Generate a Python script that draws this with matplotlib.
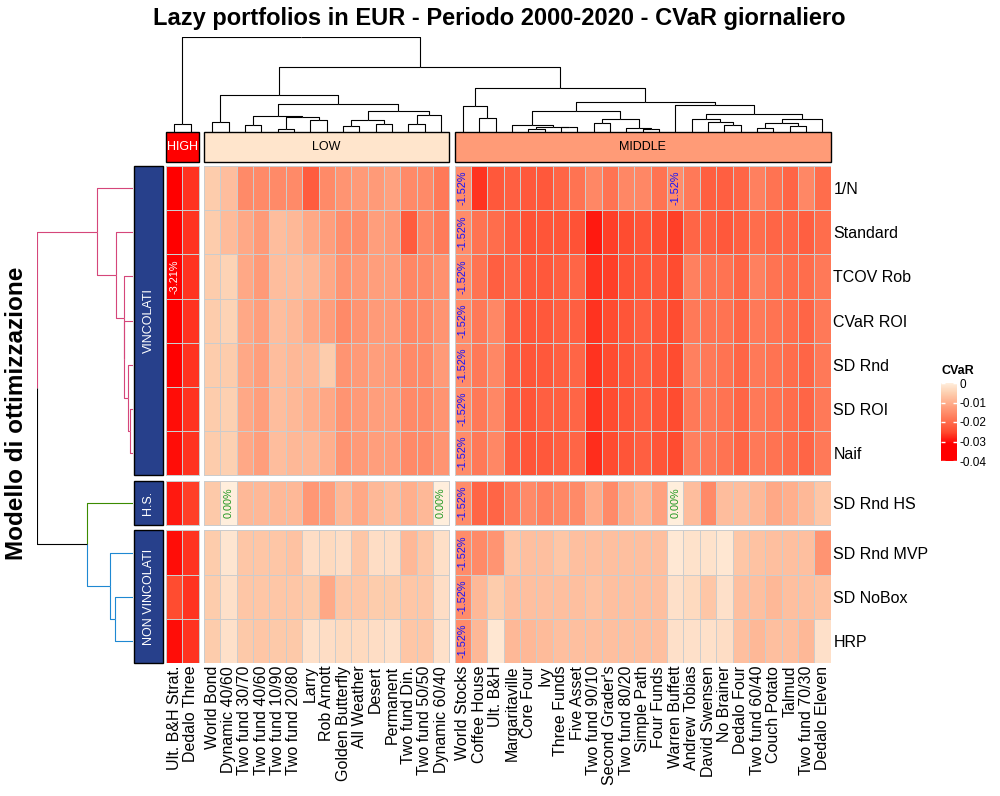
import numpy as np
import matplotlib.pyplot as plt
from matplotlib.colors import LinearSegmentedColormap, Normalize
from matplotlib.patches import Rectangle
from matplotlib.cm import ScalarMappable

plt.rcParams['font.family'] = ['Liberation Sans', 'DejaVu Sans']

TITLE = "Lazy portfolios in EUR - Periodo 2000-2020 - CVaR giornaliero"
ROW_TITLE = "Modello di ottimizzazione"

# columns, split in the three clusters
high_cols = ["Ult. B&H Strat.", "Dedalo Three"]
low_cols = ["World Bond", "Dynamic 40/60", "Two fund 30/70", "Two fund 40/60",
            "Two fund 10/90", "Two fund 20/80", "Larry", "Rob Arnott",
            "Golden Butterfly", "All Weather", "Desert", "Permanent",
            "Two fund Din.", "Two fund 50/50", "Dynamic 60/40"]
mid_cols = ["World Stocks", "Coffee House", "Ult. B&H", "Margaritaville", "Core Four",
            "Ivy", "Three Funds", "Five Asset", "Two fund 90/10", "Second Grader's",
            "Two fund 80/20", "Simple Path", "Four Funds", "Warren Buffett",
            "Andrew Tobias", "David Swensen", "No Brainer", "Dedalo Four",
            "Two fund 60/40", "Couch Potato", "Talmud", "Two fund 70/30", "Dedalo Eleven"]
col_groups = ["HIGH", "LOW", "MIDDLE"]
col_group_colors = ["#FF0000", "#FFE5CC", "#FF9B77"]
col_group_text = ["white", "black", "black"]

rows = ["1/N", "Standard", "TCOV Rob", "CVaR ROI", "SD Rnd", "SD ROI", "Naif",
        "SD Rnd HS", "SD Rnd MVP", "SD NoBox", "HRP"]
row_groups = ["VINCOLATI", "H.S.", "NON VINCOLATI"]
row_group_sizes = [7, 1, 3]
row_branch_colors = ["#D5467A", "#3B8B00", "#1E88D2"]

# daily CVaR, one list per row
cvar_high = [
    [-0.0315, -0.027], [-0.0315, -0.027], [-0.0321, -0.027], [-0.0315, -0.027],
    [-0.0308, -0.027], [-0.030, -0.027], [-0.030, -0.027],
    [-0.029, -0.026],
    [-0.030, -0.027], [-0.025, -0.027], [-0.030, -0.027],
]
cvar_low = [
    [-0.0055, -0.0078, -0.0155, -0.0155, -0.0155, -0.0155, -0.0225, -0.0155, -0.014, -0.013, -0.013, -0.012, -0.0155, -0.0155, -0.018],
    [-0.0055, -0.008, -0.011, -0.013, -0.0078, -0.0085, -0.011, -0.0125, -0.015, -0.015, -0.0125, -0.013, -0.0225, -0.016, -0.0178],
    [-0.0055, -0.0045, -0.011, -0.013, -0.0078, -0.0078, -0.0085, -0.011, -0.014, -0.013, -0.0125, -0.0125, -0.016, -0.0155, -0.0145],
    [-0.0055, -0.0045, -0.011, -0.0125, -0.0078, -0.0085, -0.011, -0.0125, -0.0155, -0.014, -0.013, -0.013, -0.016, -0.0155, -0.014],
    [-0.0055, -0.0055, -0.011, -0.0125, -0.0078, -0.0085, -0.0085, -0.0055, -0.014, -0.013, -0.0125, -0.013, -0.0155, -0.0155, -0.013],
    [-0.0055, -0.005, -0.011, -0.0125, -0.0078, -0.0085, -0.010, -0.011, -0.014, -0.013, -0.0125, -0.0125, -0.0155, -0.0155, -0.014],
    [-0.0055, -0.005, -0.011, -0.0125, -0.0078, -0.0085, -0.0085, -0.010, -0.014, -0.013, -0.0125, -0.0125, -0.0155, -0.0155, -0.014],
    [-0.006, 0.0, -0.0085, -0.0085, -0.0085, -0.0085, -0.0135, -0.0125, -0.0085, -0.011, -0.0085, -0.0078, -0.010, -0.0085, 0.0],
    [-0.0055, -0.0015, -0.0065, -0.0065, -0.0065, -0.007, -0.0028, -0.0033, -0.0028, -0.0065, -0.0028, -0.0028, -0.0085, -0.0065, -0.0025],
    [-0.0055, -0.0022, -0.0065, -0.0065, -0.0065, -0.0065, -0.0055, -0.011, -0.0065, -0.0065, -0.0055, -0.0055, -0.0065, -0.0065, -0.0028],
    [-0.0055, -0.0022, -0.006, -0.0065, -0.006, -0.006, -0.0022, -0.0028, -0.0033, -0.0033, -0.0028, -0.0022, -0.0065, -0.0065, -0.0022],
]
cvar_mid = [
    [-0.0152, -0.027, -0.023, -0.022, -0.023, -0.023, -0.021, -0.019, -0.016, -0.019, -0.016, -0.016, -0.019, -0.0152, -0.018, -0.022, -0.022, -0.021, -0.017, -0.019, -0.021, -0.016, -0.020],
    [-0.0152, -0.019, -0.020, -0.022, -0.024, -0.0235, -0.0235, -0.024, -0.029, -0.026, -0.025, -0.0235, -0.025, -0.026, -0.021, -0.022, -0.023, -0.022, -0.020, -0.021, -0.021, -0.022, -0.020],
    [-0.0152, -0.019, -0.022, -0.021, -0.023, -0.023, -0.022, -0.021, -0.027, -0.026, -0.024, -0.023, -0.023, -0.025, -0.017, -0.019, -0.019, -0.021, -0.017, -0.019, -0.020, -0.020, -0.018],
    [-0.0152, -0.018, -0.016, -0.022, -0.0235, -0.023, -0.022, -0.022, -0.027, -0.025, -0.0235, -0.022, -0.0235, -0.025, -0.018, -0.019, -0.019, -0.021, -0.018, -0.019, -0.020, -0.021, -0.018],
    [-0.0152, -0.018, -0.016, -0.022, -0.0235, -0.023, -0.022, -0.021, -0.027, -0.025, -0.0235, -0.022, -0.0235, -0.025, -0.017, -0.018, -0.019, -0.021, -0.018, -0.019, -0.020, -0.021, -0.018],
    [-0.0152, -0.018, -0.016, -0.022, -0.0235, -0.022, -0.022, -0.021, -0.027, -0.025, -0.0235, -0.022, -0.0235, -0.025, -0.018, -0.018, -0.019, -0.021, -0.018, -0.019, -0.020, -0.021, -0.018],
    [-0.0152, -0.018, -0.016, -0.022, -0.0235, -0.023, -0.022, -0.021, -0.0275, -0.025, -0.0235, -0.022, -0.0235, -0.025, -0.017, -0.018, -0.019, -0.021, -0.018, -0.019, -0.020, -0.021, -0.018],
    [-0.0152, -0.021, -0.021, -0.018, -0.0155, -0.017, -0.016, -0.0155, -0.0105, -0.0155, -0.0105, -0.009, -0.012, 0.0, -0.0078, -0.0155, -0.0078, -0.0078, -0.0085, -0.011, -0.010, -0.0085, -0.0065],
    [-0.0152, -0.0155, -0.014, -0.0065, -0.0075, -0.0075, -0.0065, -0.0075, -0.0075, -0.0075, -0.0075, -0.0075, -0.0075, -0.001, -0.002, -0.002, -0.0012, -0.0065, -0.007, -0.0075, -0.0075, -0.0075, -0.014],
    [-0.0152, -0.0085, -0.0055, -0.0075, -0.0075, -0.0075, -0.0075, -0.0075, -0.007, -0.0075, -0.0075, -0.0075, -0.0075, -0.0022, -0.0033, -0.0065, -0.0022, -0.0075, -0.0075, -0.0085, -0.0075, -0.0075, -0.007],
    [-0.0152, -0.0085, -0.0012, -0.0085, -0.0085, -0.008, -0.0075, -0.0075, -0.0075, -0.0075, -0.0075, -0.0075, -0.0075, -0.0022, -0.0022, -0.0022, -0.0028, -0.0075, -0.0085, -0.0075, -0.0075, -0.0085, -0.0022],
]

# dendrograms as (left, right, height); leaves are global column / row indices
low_tree = ((2, 3, 0.11),
            (((4, 5, 0.077), ((6, 7, 0.037), (8, 9, 0.127), 0.163), 0.17),
             (((10, 11, 0.073), (12, 13, 0.087), 0.127), ((14, 15, 0.087), 16, 0.177), 0.217),
             0.29),
            0.377)
mid_tree = ((17, (18, 19, 0.147), 0.267),
            (((20, ((21, 22, 0.043), (23, 24, 0.057), 0.065), 0.077),
              ((25, 26, 0.103), (27, (28, 29, 0.043), 0.053), 0.137), 0.22),
             (30, ((31, (32, (33, 34, 0.083), 0.107), 0.143),
                   (((35, 36, 0.053), (37, 38, 0.073), 0.097), 39, 0.14), 0.19), 0.277),
             0.31),
            0.447)
col_tree = ((0, 1, 0.093), (low_tree, mid_tree, 0.657), 0.957)

vinc_tree = (0, (1, (2, (3, (4, (5, 6, 0.03), 0.05), 0.094), 0.098), 0.176), 0.366)
row_tree = (vinc_tree, (7, (8, (9, 10, 0.18), 0.233), 0.46), 0.96)

# colour scale
scale_vals = [-0.04, -0.031, -0.025, -0.02, -0.0152, -0.01, -0.005, 0.0]
scale_cols = ['#FF0000', '#FF0000', '#FF4C30', '#FF6C4C', '#FF8C6A', '#FFAE8C', '#FDCFB0', '#FFEEDC']
legend_ticks = [0, -0.01, -0.02, -0.03, -0.04]

norm = Normalize(vmin=-0.04, vmax=0.0)
cmap = LinearSegmentedColormap.from_list(
    'cvar', [((v + 0.04) / 0.04, c) for v, c in zip(scale_vals, scale_cols)])

cvar = np.hstack([np.array(cvar_high), np.array(cvar_low), np.array(cvar_mid)])
all_cols = high_cols + low_cols + mid_cols
col_sizes = [len(high_cols), len(low_cols), len(mid_cols)]
COL_GAP = 0.33
ROW_GAP = 0.125

col_starts = [sum(col_sizes[:k]) + k * COL_GAP for k in range(3)]
col_centers = np.concatenate([col_starts[k] + np.arange(n) + 0.5 for k, n in enumerate(col_sizes)])
row_starts = [sum(row_group_sizes[:k]) + k * ROW_GAP for k in range(3)]
row_centers = np.concatenate([row_starts[k] + np.arange(n) + 0.5 for k, n in enumerate(row_group_sizes)])
x_total = sum(col_sizes) + 2 * COL_GAP
y_total = sum(row_group_sizes) + 2 * ROW_GAP
row_group_of = np.repeat(np.arange(3), row_group_sizes)

fig = plt.figure(figsize=(10, 7.96), dpi=100)

W, H = 1000.0, 796.0
left, right, top, bottom = 166, 830.6, 166, 663
ax = fig.add_axes([left / W, 1 - bottom / H, (right - left) / W, (bottom - top) / H])

c0 = 0
for k, nc in enumerate(col_sizes):
    r0 = 0
    for g, nr in enumerate(row_group_sizes):
        block = cvar[r0:r0 + nr, c0:c0 + nc]
        xe = col_starts[k] + np.arange(nc + 1)
        ye = row_starts[g] + np.arange(nr + 1)
        ax.pcolormesh(xe, ye, block, cmap=cmap, norm=norm,
                      edgecolors='#CCCCCC', linewidth=0.7)
        r0 += nr
    c0 += nc

vmin_all = cvar.min()
for i in range(cvar.shape[0]):
    for j in range(cvar.shape[1]):
        v = cvar[i, j]
        if v == 0:
            color = '#229922'
        elif v == -0.0152:
            color = '#1010FF'
        elif v == vmin_all:
            color = 'white'
        else:
            continue
        ax.text(col_centers[j], row_centers[i], f"{v * 100:.2f}%", rotation=90,
                ha='center', va='center', fontsize=7.8, color=color)

ax.set_xlim(0, x_total)
ax.set_ylim(y_total, 0)
ax.set_xticks(col_centers)
ax.set_xticklabels(all_cols, rotation=90, fontsize=11.5)
ax.yaxis.tick_right()
ax.set_yticks(row_centers)
ax.set_yticklabels(rows, fontsize=11.5)
ax.tick_params(axis='x', length=0, pad=2)
ax.tick_params(axis='y', length=0, pad=2)
for s in ax.spines.values():
    s.set_visible(False)


def leaves_of(node):
    if isinstance(node, int):
        return [node]
    return leaves_of(node[0]) + leaves_of(node[1])


def draw_dendro(axd, node, pos, on_top, groups=None, colors=None):
    if isinstance(node, int):
        return pos[node], 0.0
    l, r, h = node
    pl, hl = draw_dendro(axd, l, pos, on_top, groups, colors)
    pr, hr = draw_dendro(axd, r, pos, on_top, groups, colors)
    mid = (pl + pr) / 2
    for child, p, hc in ((l, pl, hl), (r, pr, hr)):
        col = 'black'
        if groups is not None:
            gs = {groups[i] for i in leaves_of(child)}
            if len(gs) == 1:
                col = colors[gs.pop()]
        ps, hs = [mid, p, p], [h, h, hc]
        if on_top:
            axd.plot(ps, hs, color=col, lw=0.8, solid_capstyle='butt')
        else:
            axd.plot(hs, ps, color=col, lw=0.8, solid_capstyle='butt')
    return mid, h


# column dendrogram
axt = fig.add_axes([left / W, 1 - 133 / H, (right - left) / W, 95.7 / H])
draw_dendro(axt, col_tree, col_centers, True)
axt.set_xlim(0, x_total)
axt.set_ylim(0, col_tree[2])
axt.axis('off')

# row dendrogram
axr = fig.add_axes([37.3 / W, 1 - bottom / H, 96 / W, (bottom - top) / H])
draw_dendro(axr, row_tree, row_centers, False, row_group_of, row_branch_colors)
axr.set_xlim(row_tree[2], 0)
axr.set_ylim(y_total, 0)
axr.axis('off')

# column cluster annotation
axa = fig.add_axes([left / W, 1 - 162 / H, (right - left) / W, 30 / H])
for k, nc in enumerate(col_sizes):
    axa.add_patch(Rectangle((col_starts[k], 0), nc, 1, facecolor=col_group_colors[k],
                            edgecolor='black', lw=1.0, clip_on=False))
    axa.text(col_starts[k] + nc / 2, 0.5, col_groups[k], ha='center', va='center',
             fontsize=9, color=col_group_text[k])
axa.set_xlim(0, x_total)
axa.set_ylim(0, 1)
axa.axis('off')

# row group annotation
axg = fig.add_axes([134 / W, 1 - bottom / H, 29 / W, (bottom - top) / H])
for g, nr in enumerate(row_group_sizes):
    axg.add_patch(Rectangle((0, row_starts[g]), 1, nr, facecolor='#27408B',
                            edgecolor='black', lw=1.0, clip_on=False))
    axg.text(0.5, row_starts[g] + nr / 2, row_groups[g], rotation=90, ha='center',
             va='center', fontsize=9, color='white')
axg.set_xlim(0, 1)
axg.set_ylim(y_total, 0)
axg.axis('off')

# legend
cax = fig.add_axes([941 / W, 1 - 461 / H, 16 / W, 78 / H])
cb = fig.colorbar(ScalarMappable(norm=norm, cmap=cmap), cax=cax, ticks=legend_ticks)
cb.outline.set_visible(False)
cb.ax.set_yticklabels(["0", "-0.01", "-0.02", "-0.03", "-0.04"])
cax.yaxis.set_ticks_position('both')
cax.tick_params(axis='y', direction='in', color='white', length=3, width=1,
                left=True, right=True, labelright=True, labelleft=False,
                labelsize=8.5, pad=2)
fig.text(941 / W, 1 - 371 / H, "CVaR", fontsize=9, fontweight='bold', ha='left', va='center')

fig.text(499 / W, 1 - 18 / H, TITLE, fontsize=17, fontweight='bold', ha='center', va='center')
fig.text(17 / W, 1 - 413 / H, ROW_TITLE, fontsize=17.5, fontweight='bold', rotation=90,
         ha='center', va='center')

fig.savefig("out.png", dpi=100)
